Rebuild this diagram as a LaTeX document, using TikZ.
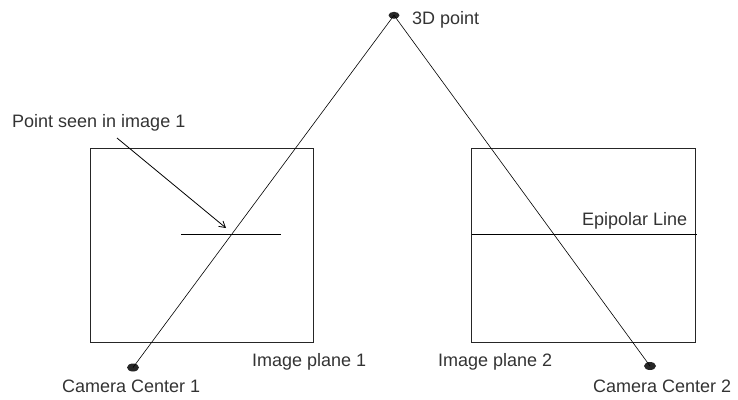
\documentclass[tikz,border=0pt]{standalone}
\usepackage{fontspec}
\setmainfont{Liberation Sans}
\usetikzlibrary{shapes.geometric,arrows.meta}
\begin{document}
\begin{tikzpicture}[x=1pt,y=-1pt,
  dot/.style={ellipse,fill=black!85,inner sep=0pt,minimum width=12pt,minimum height=8pt},
  plane/.style={draw=black!85,line width=0.9pt,inner sep=0pt},
  ray/.style={draw=black,line width=0.6pt},
  lbl/.style={anchor=base west,inner sep=0pt,text=black!80,font=\fontsize{18}{20}\selectfont},
  imgline/.style={draw=black,line width=0.9pt}]
\useasboundingbox (0,0) rectangle (738,399);
% planes
\node[plane,minimum width=223pt,minimum height=194pt] (box1) at (201.5,245) {};
\node[plane,minimum width=224pt,minimum height=194pt] (box2) at (583.5,245) {};
% dots
\node[dot,minimum width=11pt,minimum height=7pt] (p3d) at (394,15.3) {};
\node[dot] (c1) at (133,367.5) {};
\node[dot] (c2) at (650,366) {};
% rays
\draw[ray] (p3d.center) -- (c1.center);
\draw[ray] (p3d.center) -- (c2.center);
% lines in images
\coordinate (s1) at (181,234.3);
\coordinate (s2) at (281,234.3);
\draw[imgline] (s1) -- (s2);
\coordinate (e1) at (471.5,234.5);
\coordinate (e2) at (697,234.5);
\draw[imgline] (e1) -- (e2);
% arrow
\coordinate (a1) at (117,138);
\coordinate (a2) at (226,228);
\draw[ray,line width=0.8pt,-{Straight Barb[length=6pt,width=7pt]}] (a1) -- (a2);
% labels
\node[lbl] (t3d) at (412,24.3) {3D point};
\node[lbl] (tps) at (12,127) {Point seen in image 1};
\node[lbl] (tip1) at (252,366.5) {Image plane 1};
\node[lbl] (tip2) at (438,366.5) {Image plane 2};
\node[lbl] (tcc1) at (62,392) {Camera Center 1};
\node[lbl] (tcc2) at (593,392) {Camera Center 2};
\node[lbl] (tepi) at (582,225) {Epipolar Line};
\end{tikzpicture}
\end{document}
